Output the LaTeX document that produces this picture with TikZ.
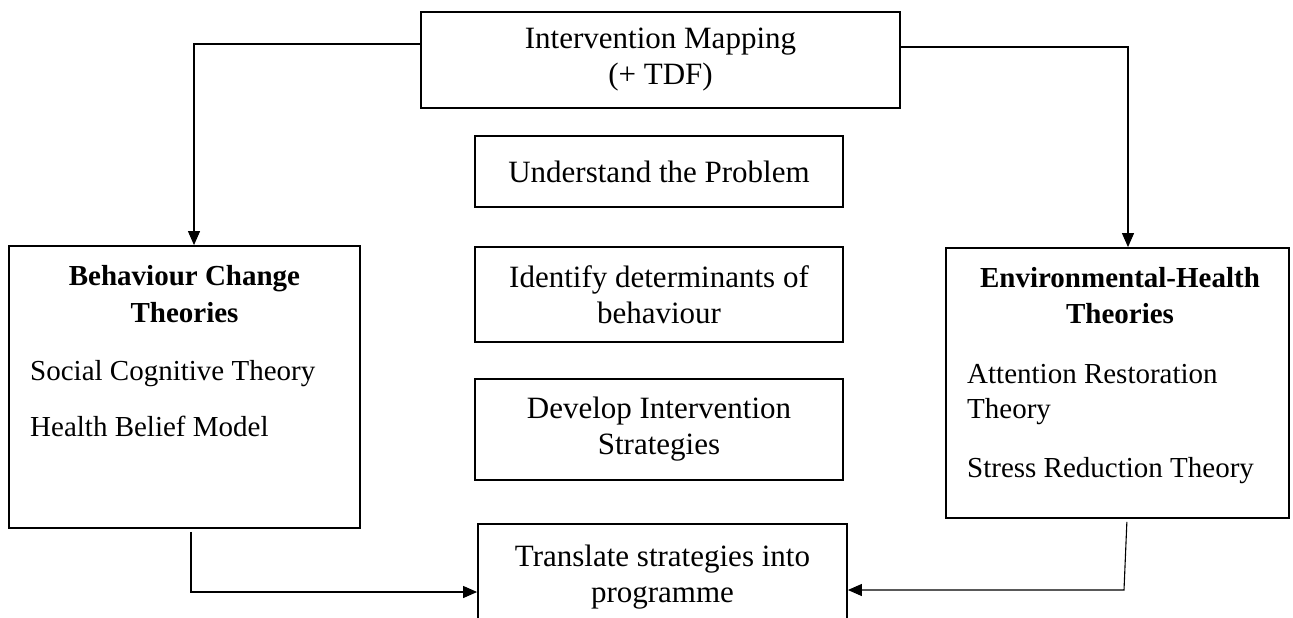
\documentclass[tikz,border=0pt]{standalone}
\usepackage{fontspec}
\setmainfont{Liberation Serif}
\usetikzlibrary{arrows.meta}
\begin{document}
\begin{tikzpicture}[x=1pt,y=-1pt,
  box/.style={draw, line width=1.8pt, inner sep=0pt},
  stage/.style={box, align=center, font=\fontsize{31}{36}\selectfont},
  headtxt/.style={anchor=base, inner sep=0pt, font=\fontsize{29}{35}\bfseries\selectfont},
  itemtxt/.style={anchor=base west, inner sep=0pt, font=\fontsize{29}{35}\selectfont},
  conn/.style={line width=1.1pt},
  arr/.style={conn, -{Triangle[length=14pt,width=12pt]}}]

% page area
\fill[white] (0,0) rectangle (1293,618);
\clip (0,0) rectangle (1293,618);

% central column of stages
\node[stage, minimum width=479pt, minimum height=96pt]  (top)   at (660.5,60)  {Intervention Mapping\\(+ TDF)};
\node[stage, minimum width=368pt, minimum height=71pt]  (und)   at (659,171.5) {Understand the Problem};
\node[stage, minimum width=368pt, minimum height=95pt]  (ident) at (659,294.5) {Identify determinants of\\behaviour};
\node[stage, minimum width=368pt, minimum height=101pt] (dev)   at (659,429.5) {Develop Intervention\\Strategies};
\node[stage, minimum width=369pt, minimum height=106pt] (trans) at (662.5,577) {Translate strategies into\\programme};

% theory boxes
\node[box, minimum width=351pt, minimum height=282pt] (lbox) at (184.5,387) {};
\node[headtxt] (lh1) at (184.5,285) {Behaviour Change};
\node[headtxt] (lh2) at (184.5,322) {Theories};
\node[itemtxt] (li1) at (30,380) {Social Cognitive Theory};
\node[itemtxt] (li2) at (30,436) {Health Belief Model};

\node[box, minimum width=343pt, minimum height=270pt] (rbox) at (1117.5,383) {};
\node[headtxt] (rh1) at (1120,287) {Environmental-Health};
\node[headtxt] (rh2) at (1120,323) {Theories};
\node[itemtxt] (ri1) at (967,383) {Attention Restoration};
\node[itemtxt] (ri2) at (967,418) {Theory};
\node[itemtxt] (ri3) at (967,477) {Stress Reduction Theory};

% connectors
\coordinate (lturn) at (194,44);
\coordinate (rturn) at (1128,47);
\coordinate (lbend) at (191,592);
\coordinate (rtop)  at (1127,520);
\coordinate (rbend) at (1124,590);

\draw[arr] (top.west |- lturn) -- (lturn) -- (lturn |- lbox.north);
\draw[arr] (top.east |- rturn) -- (rturn) -- (rturn |- rbox.north);
\draw[arr, shorten <=3pt] (lbox.south -| lbend) -- (lbend) -- (lbend -| trans.west);
\draw[arr, shorten <=3pt] (rbox.south -| rtop) -- (rbend) -- (rbend -| trans.east);
\end{tikzpicture}
\end{document}
